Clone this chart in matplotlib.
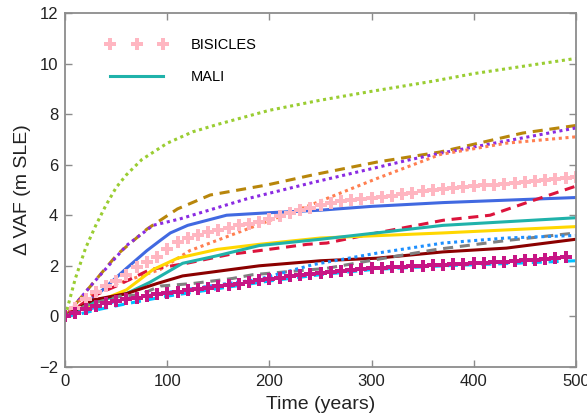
import matplotlib
matplotlib.use('Agg')
import matplotlib.pyplot as plt

plt.rcParams['font.family'] = ['Liberation Sans', 'DejaVu Sans']

# ---------------- data (time in years, dVAF in m SLE) ----------------
green_t = [0, 10, 20, 30, 40, 50, 60, 75, 100, 125, 150, 200, 250, 300, 360, 400, 450, 500]
green_v = [0, 1.5, 2.7, 3.6, 4.4, 5.1, 5.6, 6.2, 6.85, 7.3, 7.6, 8.15, 8.55, 8.9, 9.3, 9.6, 9.9, 10.2]

goldd_t = [0, 27, 51, 80, 110, 142, 198, 243, 305, 367, 448, 500]
goldd_v = [0, 1.3, 2.45, 3.45, 4.25, 4.8, 5.2, 5.6, 6.1, 6.5, 7.25, 7.55]

purple_t = [0, 27, 60, 86, 112, 178, 243, 338, 367, 500]
purple_v = [0, 1.3, 2.8, 3.6, 3.85, 4.65, 5.3, 6.2, 6.45, 7.45]

coral_t = [0, 15, 44, 93, 122, 178, 240, 305, 367, 432, 500]
coral_v = [0, 0.65, 1.2, 1.85, 2.6, 3.45, 4.4, 5.45, 6.4, 6.85, 7.1]

blue_t = [0, 20, 34, 60, 80, 93, 103, 120, 158, 200, 250, 300, 370, 500]
blue_v = [0, 0.55, 0.95, 1.9, 2.6, 3.0, 3.3, 3.6, 4.0, 4.1, 4.2, 4.35, 4.5, 4.7]

crimson_t = [0, 27, 50, 83, 119, 161, 190, 237, 256, 305, 370, 416, 452, 500]
crimson_v = [0, 0.8, 1.2, 1.85, 2.1, 2.45, 2.6, 2.85, 2.9, 3.3, 3.8, 4.0, 4.5, 5.15]

mali_t = [0, 27, 60, 83, 115, 149, 190, 250, 370, 500]
mali_v = [0, 0.55, 0.9, 1.35, 2.1, 2.4, 2.8, 3.05, 3.6, 3.9]

gold_t = [0, 27, 60, 86, 110, 149, 190, 250, 370, 500]
gold_v = [0, 0.5, 1.05, 1.85, 2.3, 2.65, 2.85, 3.1, 3.3, 3.55]

dodger_t = [0, 50, 100, 150, 188, 243, 305, 370, 432, 500]
dodger_v = [0, 0.6, 0.95, 1.25, 1.45, 2.05, 2.5, 2.9, 3.1, 3.2]

gray_t = [0, 21, 54, 73, 93, 125, 164, 184, 256, 305, 364, 432, 500]
gray_v = [0, 0.45, 0.8, 0.85, 1.2, 1.3, 1.5, 1.65, 1.9, 2.25, 2.65, 3.0, 3.3]

maroon_t = [0, 27, 60, 90, 115, 190, 250, 305, 370, 432, 500]
maroon_v = [0, 0.65, 0.9, 1.3, 1.6, 2.0, 2.2, 2.3, 2.55, 2.7, 3.05]

cyan_t = [0, 15, 30, 60, 100, 150, 200, 250, 300, 370, 440, 500]
cyan_v = [0, 0.1, 0.25, 0.5, 0.8, 1.1, 1.4, 1.65, 1.85, 2.0, 2.1, 2.2]

# BISICLES runs, one marker every 10 years
bis_t = list(range(0, 510, 10))
bis_pink = [0, 0.35, 0.7, 0.95, 1.2, 1.4, 1.65, 1.95, 2.15, 2.35,
            2.65, 2.95, 3.1, 3.2, 3.35, 3.4, 3.5, 3.6, 3.65, 3.75,
            3.85, 3.95, 4.1, 4.2, 4.3, 4.4, 4.5, 4.55, 4.6, 4.65,
            4.7, 4.72, 4.76, 4.82, 4.88, 4.94, 5.0, 5.04, 5.08, 5.12,
            5.15, 5.18, 5.21, 5.25, 5.28, 5.31, 5.35, 5.38, 5.42, 5.46, 5.5]
bis_mag_t = list(range(0, 500, 10))
bis_mag = [0, 0.12, 0.3, 0.42, 0.52, 0.6, 0.67, 0.73, 0.8, 0.87,
           0.93, 0.98, 1.03, 1.08, 1.14, 1.2, 1.25, 1.3, 1.35, 1.42,
           1.47, 1.52, 1.58, 1.63, 1.68, 1.72, 1.76, 1.8, 1.84, 1.87,
           1.9, 1.93, 1.95, 1.97, 1.99, 2.01, 2.03, 2.05, 2.07, 2.09,
           2.11, 2.13, 2.15, 2.17, 2.19, 2.21, 2.24, 2.27, 2.3, 2.33]

# ---------------- plot ----------------
fig = plt.figure(figsize=(5.87, 4.17), dpi=100)
ax = fig.add_axes([0.111, 0.12, 0.870, 0.849])

lw = 2.2
dot = (0, (1, 1.2))
dash = (0, (3.3, 2.2))

ax.plot(green_t, green_v, color='#9acd32', lw=lw, ls=dot)
ax.plot(goldd_t, goldd_v, color='#b8860b', lw=lw, ls=dash)
ax.plot(purple_t, purple_v, color='#8a2be2', lw=lw, ls=dot)
ax.plot(coral_t, coral_v, color='#ff7f50', lw=lw, ls=dot)
ax.plot(blue_t, blue_v, color='#4169e1', lw=lw)
ax.plot(crimson_t, crimson_v, color='#dc143c', lw=lw, ls=dash)
ax.plot(gold_t, gold_v, color='#ffd700', lw=lw)
ax.plot(mali_t, mali_v, color='#20b2aa', lw=lw, label='MALI')
ax.plot(maroon_t, maroon_v, color='#8b0000', lw=lw)
ax.plot(gray_t, gray_v, color='#808080', lw=lw, ls=dash)
ax.plot(dodger_t, dodger_v, color='#1e90ff', lw=lw, ls=dot)
ax.plot(cyan_t, cyan_v, color='#00bfff', lw=lw, ls=dash)
ax.plot(bis_t, bis_pink, color='#ffb6c1', ls='none', marker='P',
        markersize=8, markeredgewidth=0, label='BISICLES')
ax.plot(bis_mag_t, bis_mag, color='#c71585', ls='none', marker='P',
        markersize=8, markeredgewidth=0)

ax.set_xlim(0, 500)
ax.set_ylim(-2, 12)
ax.set_xticks(range(0, 501, 100))
ax.set_yticks(range(-2, 13, 2))

for s in ax.spines.values():
    s.set_color('#8c8c8c')
    s.set_linewidth(1.3)
ax.tick_params(direction='in', length=5, width=1, color='#8c8c8c',
               top=True, right=True, labelsize=12, labelcolor='#222222', pad=5)

ax.set_xlabel('Time (years)', fontsize=14, color='#222222', labelpad=5)
ax.set_ylabel('\u0394 VAF (m SLE)', fontsize=14, color='#222222', labelpad=6)

h, l = ax.get_legend_handles_labels()
order = [l.index('BISICLES'), l.index('MALI')]
ax.legend([h[i] for i in order], [l[i] for i in order], loc='upper left',
          frameon=False, fontsize=10.5, numpoints=3, handlelength=4.2,
          handletextpad=1.6, labelspacing=1.25, borderaxespad=0.3,
          bbox_to_anchor=(0.06, 0.958))

fig.savefig('out.png', dpi=100)
